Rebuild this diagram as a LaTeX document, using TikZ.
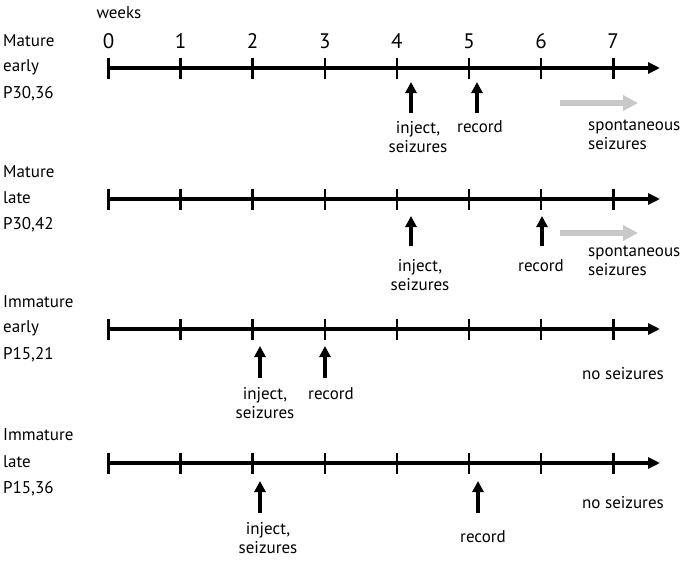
\documentclass[tikz,border=0pt]{standalone}
\usepackage{fontspec}
\setmainfont{PT Sans}
\usetikzlibrary{arrows.meta}
\begin{document}
\begin{tikzpicture}[x=1pt,y=-1pt,
  lbl/.style={font=\fontsize{17}{19.5}\selectfont, inner sep=0pt},
  num/.style={font=\fontsize{21}{22}\selectfont, inner sep=0pt},
  axisline/.style={line width=3.8pt, -{Triangle[length=12pt,width=11pt]}},
  tickline/.style={line width=2.6pt},
  evt/.style={line width=3.4pt, -{Triangle[length=11pt,width=11pt]}},
  spont/.style={line width=5.5pt, draw={rgb,255:red,200;green,200;blue,200}, -{Triangle[length=15pt,width=15pt]}}]
\useasboundingbox (0,0) rectangle (683,565);
\node[lbl] (weeks) at (119,13) {weeks};
\foreach \i in {0,...,7}{
  \node[num] (n\i) at (108.5+72.1*\i,41) {\i};
}
% row labels
\node[lbl,anchor=west] (r1a) at (3,41) {Mature};
\node[lbl,anchor=west] (r1b) at (3,67) {early};
\node[lbl,anchor=west] (r1c) at (3,94) {P30,36};
\node[lbl,anchor=west] (r2a) at (3,172) {Mature};
\node[lbl,anchor=west] (r2b) at (3,198) {late};
\node[lbl,anchor=west] (r2c) at (3,225) {P30,42};
\node[lbl,anchor=west] (r3a) at (3,302) {Immature};
\node[lbl,anchor=west] (r3b) at (3,328) {early};
\node[lbl,anchor=west] (r3c) at (3,355) {P15,21};
\node[lbl,anchor=west] (r4a) at (3,435) {Immature};
\node[lbl,anchor=west] (r4b) at (3,462) {late};
\node[lbl,anchor=west] (r4c) at (3,489) {P15,36};
% axes
\foreach \r/\y in {1/68,2/199,3/329,4/463}{
  \coordinate (a\r s) at (107.2,\y);
  \coordinate (a\r e) at (660,\y);
  \draw[axisline] (a\r s) -- (a\r e);
  \foreach \i in {0,...,7}{
    \coordinate (t\r-\i a) at (108.5+72.1*\i,\y-10.5);
    \coordinate (t\r-\i b) at (108.5+72.1*\i,\y+10.5);
    \draw[tickline] (t\r-\i a) -- (t\r-\i b);
  }
}
% row 1
\coordinate (e1a0) at (411,113); \coordinate (e1a1) at (411,82);
\coordinate (e1b0) at (477,113); \coordinate (e1b1) at (477,82);
\draw[evt] (e1a0) -- (e1a1);
\draw[evt] (e1b0) -- (e1b1);
\node[lbl,align=center] (l1a) at (418,137) {inject,\\seizures};
\node[lbl] (l1b) at (480,127) {record};
\coordinate (g1s) at (560,103); \coordinate (g1e) at (638,103);
\draw[spont] (g1s) -- (g1e);
\node[lbl,align=left,anchor=west] (l1c) at (588,135) {spontaneous\\seizures};
% row 2
\coordinate (e2a0) at (411,246); \coordinate (e2a1) at (411,216);
\coordinate (e2b0) at (542,246); \coordinate (e2b1) at (542,216);
\draw[evt] (e2a0) -- (e2a1);
\draw[evt] (e2b0) -- (e2b1);
\node[lbl,align=center] (l2a) at (420,275) {inject,\\seizures};
\node[lbl] (l2b) at (541,266) {record};
\coordinate (g2s) at (560,233); \coordinate (g2e) at (638,233);
\draw[spont] (g2s) -- (g2e);
\node[lbl,align=left,anchor=west] (l2c) at (588,261) {spontaneous\\seizures};
% row 3
\coordinate (e3a0) at (260,378); \coordinate (e3a1) at (260,346);
\coordinate (e3b0) at (325,378); \coordinate (e3b1) at (325,346);
\draw[evt] (e3a0) -- (e3a1);
\draw[evt] (e3b0) -- (e3b1);
\node[lbl,align=center] (l3a) at (265,403) {inject,\\seizures};
\node[lbl] (l3b) at (331,394) {record};
\node[lbl] (l3c) at (623,374) {no seizures};
% row 4
\coordinate (e4a0) at (260,513); \coordinate (e4a1) at (260,481);
\coordinate (e4b0) at (478,513); \coordinate (e4b1) at (478,481);
\draw[evt] (e4a0) -- (e4a1);
\draw[evt] (e4b0) -- (e4b1);
\node[lbl,align=center] (l4a) at (268,538) {inject,\\seizures};
\node[lbl] (l4b) at (483,537) {record};
\node[lbl] (l4c) at (623,503) {no seizures};
\end{tikzpicture}
\end{document}
